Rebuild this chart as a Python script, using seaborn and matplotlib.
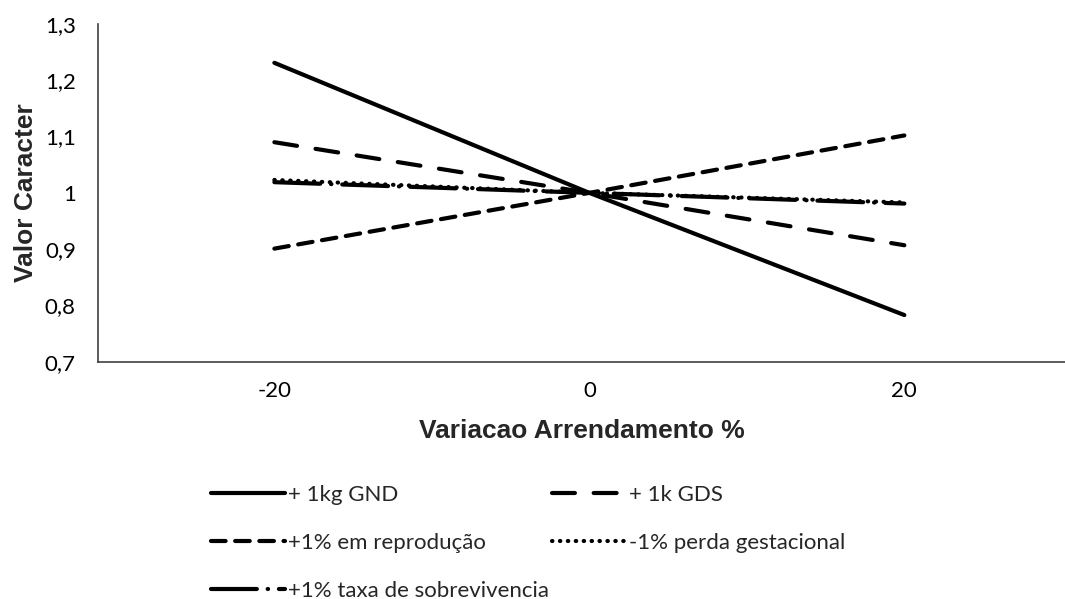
import numpy as np
import pandas as pd
import seaborn as sns
import matplotlib.pyplot as plt

# Data
variacao = [-20, 0, 20]
gnd = [1.231, 1.0, 0.783]
gds = [1.090, 1.0, 0.907]
reproducao = [0.901, 1.0, 1.102]
perda = [1.023, 1.0, 0.983]
sobrevivencia = [1.019, 1.0, 0.981]

names = ['+ 1kg GND', '+ 1k GDS', '+1% em reprodução',
         '-1% perda gestacional', '+1% taxa de sobrevivencia']
y_ticks = [0.7, 0.8, 0.9, 1.0, 1.1, 1.2, 1.3]
y_labels = ['0,7', '0,8', '0,9', '1', '1,1', '1,2', '1,3']

df = pd.DataFrame({
    'x': variacao * 5,
    'y': gnd + gds + reproducao + perda + sobrevivencia,
    'serie': np.repeat(names, 3),
})

dash_styles = {
    names[0]: '',
    names[1]: (5.5, 4.5),
    names[2]: (3.5, 2.3),
    names[3]: (0.1, 1.8),
    names[4]: (11, 2.6, 0.1, 2.6),
}

sns.set_style('white')
plt.rcParams['font.family'] = ['Lato', 'DejaVu Sans']

fig = plt.figure(figsize=(10.65, 5.99), dpi=100)
ax = fig.add_axes([0.092, 0.396, 0.908, 0.564])

sns.lineplot(data=df, x='x', y='y', hue='serie', style='serie',
             palette=['black'] * 5, dashes=dash_styles, linewidth=3,
             legend=False, ax=ax)
for ln in ax.get_lines():
    ln.set_dash_capstyle('round')
    ln.set_solid_capstyle('round')

ax.set_xlim(-31.2, 30.2)
ax.set_ylim(0.7, 1.3)
ax.set_xticks(variacao)
ax.set_xticklabels(['-20', '0', '20'])
ax.set_yticks(y_ticks)
ax.set_yticklabels(y_labels)
ax.tick_params(length=0, labelsize=16, colors='black')
ax.tick_params(axis='x', pad=14)
ax.tick_params(axis='y', pad=16)

for s in ['top', 'right']:
    ax.spines[s].set_visible(False)
for s in ['left', 'bottom']:
    ax.spines[s].set_color('#404040')
    ax.spines[s].set_linewidth(1.2)

ax.set_xlabel('Variacao Arrendamento %', fontsize=19, fontweight='bold',
              family='Liberation Sans', labelpad=13)
ax.set_ylabel('Valor Caracter', fontsize=19, fontweight='bold',
              family='Liberation Sans', labelpad=5)

lines = ax.get_lines()
order = [0, 2, 4, 1, 3]
fig.legend([lines[i] for i in order], [names[i] for i in order],
           ncol=2, loc='upper left', bbox_to_anchor=(0.19, 0.205),
           frameon=False, fontsize=16, handlelength=3.3, handletextpad=0.15,
           columnspacing=0.15, labelspacing=1.25, borderaxespad=0)

fig.savefig('out.png', dpi=100)
